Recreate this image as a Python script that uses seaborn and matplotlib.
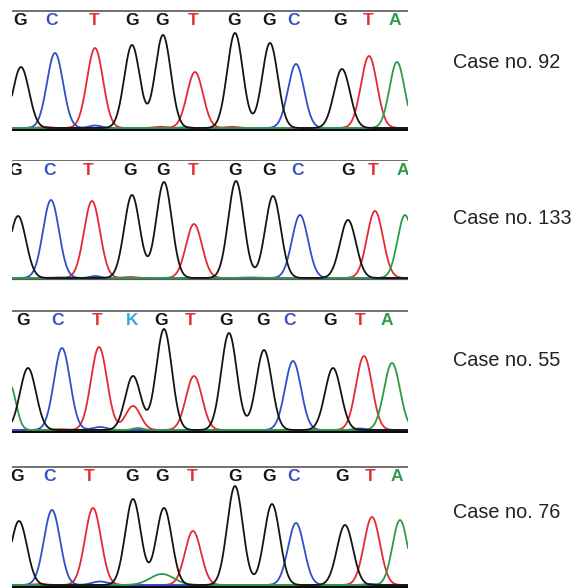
import numpy as np
import pandas as pd
import matplotlib
matplotlib.use("Agg")
import matplotlib.pyplot as plt
import seaborn as sns

# ---------------- data ----------------
case_labels = ["Case no. 92", "Case no. 133", "Case no. 55", "Case no. 76"]

# base calls printed above each trace
calls_92 = list("GCTGGTGGCGTA")
call_x_92 = [20, 52, 94, 132, 162, 193, 234, 269, 293, 340, 368, 395]
calls_133 = list("GCTGGTGGCGTA")
call_x_133 = [15, 50, 88, 130, 163, 193, 235, 269, 298, 348, 373, 403]
calls_55 = list("GCTKGTGGCGTA")
call_x_55 = [23, 58, 97, 132, 161, 190, 226, 263, 290, 330, 360, 387]
calls_76 = list("GCTGGTGGCGTA")
call_x_76 = [17, 49, 89, 132, 162, 192, 235, 269, 293, 342, 370, 397]

# main peaks: dye, scan position, height, width
peak_base_92 = list("GCTGGTGGCGTA")
peak_pos_92 = [21, 55, 95, 132, 163, 195, 235, 270, 296, 342, 369, 397]
peak_h_92 = [61, 75, 80, 83, 93, 56, 95, 85, 64, 59, 72, 66]
peak_w_92 = [8.0, 8.0, 8.0, 7.8, 7.8, 8.0, 7.8, 7.8, 8.0, 8.0, 8.0, 7.5]

peak_base_133 = list("GCTGGTGGCGTA")
peak_pos_133 = [18, 51, 92, 132, 164, 194, 236, 273, 300, 348, 375, 405]
peak_h_133 = [62, 78, 77, 83, 96, 54, 97, 82, 63, 58, 67, 63]
peak_w_133 = [8.0, 8.0, 8.0, 7.8, 7.8, 8.0, 7.8, 7.8, 8.0, 8.0, 8.0, 7.5]

peak_base_55 = list("AGCTGTGTGGCGTA")
peak_pos_55 = [10, 28, 62, 99, 133, 133, 164, 194, 229, 264, 293, 333, 364, 392]
peak_h_55 = [45, 62, 82, 83, 54, 24, 101, 54, 97, 80, 69, 62, 74, 67]
peak_w_55 = [6.0, 8.0, 8.0, 8.0, 7.8, 7.5, 7.8, 8.0, 7.8, 7.8, 8.0, 8.0, 8.0, 8.0]

peak_base_76 = list("GCTGGTGGCGTA")
peak_pos_76 = [19, 52, 93, 133, 164, 193, 235, 272, 296, 345, 372, 400]
peak_h_76 = [64, 75, 77, 86, 77, 54, 99, 81, 62, 60, 68, 65]
peak_w_76 = [8.0, 8.0, 8.0, 7.8, 7.8, 8.0, 7.8, 7.8, 8.0, 8.0, 8.0, 7.5]

# small background bumps along the baseline
noise_base_92 = list("CTTTC")
noise_pos_92 = [95, 45, 160, 232, 185]
noise_h_92 = [2.5, 1.0, 1.2, 1.2, 0.8]
noise_w_92 = [6, 6, 6, 6, 5]

noise_base_133 = list("CTAA")
noise_pos_133 = [95, 130, 60, 250]
noise_h_133 = [2.0, 1.0, 0.6, 0.6]
noise_w_133 = [5, 6, 8, 8]

noise_base_55 = list("CATC")
noise_pos_55 = [100, 138, 60, 360]
noise_h_55 = [3.0, 2.0, 0.8, 1.5]
noise_w_55 = [7, 5, 6, 6]

noise_base_76 = list("ACTC")
noise_pos_76 = [162, 100, 40, 370]
noise_h_76 = [11, 3.5, 1.0, 1.0]
noise_w_76 = [12, 8, 6, 6]

# ---------------- style ----------------
dye_colors = {"G": "#141414", "C": "#2e4fc6", "T": "#e52a33", "A": "#2d9a4a"}
call_colors = {"G": "#141414", "C": "#3a4fc0", "T": "#e23036", "A": "#2f9a4c", "K": "#3aa6e0"}

sns.set_theme(style="white")
plt.rcParams["font.family"] = ["Liberation Sans", "DejaVu Sans"]

W, H = 577, 588
fig = plt.figure(figsize=(W / 100, H / 100), dpi=100)

# panel geometry in pixels: (top line y, baseline y)
panel_px = [(10, 128), (160, 278), (310, 430), (466, 585)]
x_left, x_right = 12, 408
label_y = [62, 218, 360, 513]
label_x = 453

panels = [
    (calls_92, call_x_92, peak_base_92, peak_pos_92, peak_h_92, peak_w_92,
     noise_base_92, noise_pos_92, noise_h_92, noise_w_92),
    (calls_133, call_x_133, peak_base_133, peak_pos_133, peak_h_133, peak_w_133,
     noise_base_133, noise_pos_133, noise_h_133, noise_w_133),
    (calls_55, call_x_55, peak_base_55, peak_pos_55, peak_h_55, peak_w_55,
     noise_base_55, noise_pos_55, noise_h_55, noise_w_55),
    (calls_76, call_x_76, peak_base_76, peak_pos_76, peak_h_76, peak_w_76,
     noise_base_76, noise_pos_76, noise_h_76, noise_w_76),
]

xs = np.linspace(x_left, x_right, 900)

for i, (calls, cx, pb, pp, ph, pw, nb, npos, nh, nw) in enumerate(panels):
    top, base = panel_px[i]
    hgt = base - top
    pad = 3
    ax = fig.add_axes([x_left / W, 1 - (base + pad) / H,
                       (x_right - x_left) / W, (hgt + pad) / H])
    ax.set_xlim(x_left, x_right)
    ax.set_ylim(-pad, hgt)

    # build traces per dye from the peak tables
    sig = {d: np.zeros_like(xs) for d in "GCTA"}
    for b, p, h, w in list(zip(pb, pp, ph, pw)) + list(zip(nb, npos, nh, nw)):
        sig[b] += h * np.exp(-((xs - p) ** 2) / (2 * w ** 2))
    df = pd.concat([pd.DataFrame({"x": xs, "y": sig[d], "dye": d}) for d in "TCAG"],
                   ignore_index=True)

    # baseline and top rule
    if i == 1:
        ax.axhline(-0.8, color="#5a5a5a", lw=1.6, zorder=1)
    else:
        ax.axhline(-1.2, color="#0a0a0a", lw=2.4, zorder=1)
    ax.axhline(hgt - 0.5, color="#4a4a4a", lw=1.1, zorder=1)

    sns.lineplot(data=df, x="x", y="y", hue="dye", palette=dye_colors,
                 hue_order=["T", "C", "A", "G"], estimator=None, sort=False,
                 linewidth=1.3, legend=False, ax=ax, zorder=2)

    for c, x in zip(calls, cx):
        ax.text(x, hgt - 10.5, c, color=call_colors[c], ha="center", va="center",
                fontsize=12.5, fontweight="bold",
                family=["Liberation Sans Narrow", "Liberation Sans", "DejaVu Sans"],
                clip_on=True)

    ax.set_axis_off()

    fig.text(label_x / W, 1 - label_y[i] / H, case_labels[i], ha="left", va="center",
             fontsize=14.3, color="#222222",
             family=["Liberation Sans Narrow", "Liberation Sans", "DejaVu Sans"])

fig.savefig("out.png", dpi=100, facecolor="white")
